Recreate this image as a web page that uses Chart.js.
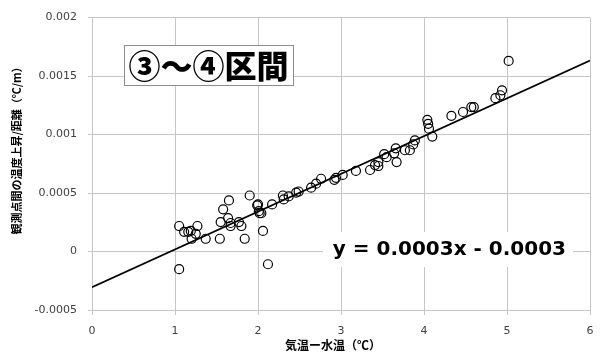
<!DOCTYPE html>
<html>
<head>
<meta charset="utf-8">
<script src="https://cdn.jsdelivr.net/npm/chart.js@4/dist/chart.umd.min.js"></script>
<style>
  html, body { margin: 0; padding: 0; background: #fff; }
  #wrap { width: 606px; height: 355px; }
</style>
</head>
<body>
<div id="wrap"><canvas id="c" width="606" height="355"></canvas></div>
<script>
// Air minus water temperature (°C) for each observation pair
const airWaterDiff = [
  1.05, 1.05, 1.11, 1.16, 1.19, 1.20, 1.25, 1.27, 1.37, 1.54,
  1.55, 1.58, 1.64, 1.65, 1.67, 1.67, 1.77, 1.80, 1.84, 1.90,
  1.99, 2.00, 2.01, 2.02, 2.04, 2.06, 2.12, 2.17, 2.30, 2.31,
  2.37, 2.46, 2.49, 2.64, 2.70, 2.76, 2.92, 2.94, 3.02, 3.18,
  3.35, 3.41, 3.45, 3.45, 3.52, 3.55, 3.64, 3.66, 3.67, 3.77,
  3.83, 3.87, 3.89, 4.04, 4.05, 4.06, 4.10, 4.33, 4.47, 4.57,
  4.60, 4.86, 4.92, 4.94, 5.02
];
// Temperature rise between stations divided by distance (°C/m)
const riseRate = [
  0.000218, -0.000151, 0.000168, 0.000168, 0.000176, 0.000109, 0.000151, 0.000218, 0.000109, 0.000109,
  0.000252, 0.000361, 0.000286, 0.000437, 0.000244, 0.000218, 0.000252, 0.000218, 0.000109, 0.000479,
  0.000395, 0.000403, 0.000345, 0.000328, 0.000328, 0.000176, -0.000109, 0.000403, 0.000479, 0.000445,
  0.000471, 0.000504, 0.000513, 0.000546, 0.000580, 0.000622, 0.000613, 0.000630, 0.000655, 0.000689,
  0.000697, 0.000739, 0.000765, 0.000731, 0.000832, 0.000807, 0.000840, 0.000882, 0.000765, 0.000866,
  0.000866, 0.000916, 0.000950, 0.001126, 0.001092, 0.001050, 0.000983, 0.001160, 0.001193, 0.001235,
  0.001235, 0.001311, 0.001336, 0.001378, 0.001630
];
// Linear fit (shown rounded in the equation label)
const fitSlope = 0.000323;
const fitIntercept = -0.000305;
const fitRange = [0, 6];

const xTicks = [0, 1, 2, 3, 4, 5, 6];
const yTicks = [-0.0005, 0, 0.0005, 0.001, 0.0015, 0.002];

const sectionLabel = '③～④区間';
const equationLabel = 'y = 0.0003x - 0.0003';
const xTitle = '気温ー水温（℃）';
const yTitle = '観測点間の温度上昇/距離（℃/m）';

const points = airWaterDiff.map((x, i) => ({ x, y: riseRate[i] }));
const fitLine = fitRange.map(x => ({ x, y: fitSlope * x + fitIntercept }));

const JP = '"Noto Sans CJK JP", sans-serif';
const gridColor = '#c6c6c6';

const annotations = {
  id: 'annotations',
  afterDraw(chart) {
    const ctx = chart.ctx;
    ctx.save();

    // section label box
    ctx.fillStyle = '#ffffff';
    ctx.fillRect(124, 45, 169, 40);
    ctx.strokeStyle = '#8c8c8c';
    ctx.lineWidth = 1;
    ctx.strokeRect(124.5, 45.5, 169, 40);
    ctx.fillStyle = '#000';
    ctx.font = '900 32px ' + JP;
    ctx.textAlign = 'center';
    ctx.textBaseline = 'middle';
    ctx.fillText(sectionLabel, 208.5, 66);

    // regression equation
    ctx.fillStyle = '#ffffff';
    ctx.fillRect(323, 232, 250, 35);
    ctx.fillStyle = '#000';
    ctx.font = 'bold 20px "DejaVu Sans", Verdana, sans-serif';
    ctx.textAlign = 'right';
    ctx.fillText(equationLabel, 566, 250);

    // axis titles
    ctx.font = 'bold 12px ' + JP;
    ctx.textAlign = 'center';
    ctx.fillText(xTitle, 333, 345);
    ctx.font = 'bold 11px ' + JP;
    ctx.translate(17, 148);
    ctx.rotate(-Math.PI / 2);
    ctx.fillText(yTitle, 0, 0);
    ctx.restore();
  }
};

new Chart(document.getElementById('c'), {
  type: 'scatter',
  data: {
    datasets: [
      {
        type: 'line',
        data: fitLine,
        borderColor: '#000',
        borderWidth: 1.6,
        pointRadius: 0,
        fill: false,
        order: 0
      },
      {
        data: points,
        pointRadius: 4.5,
        pointBorderWidth: 1.2,
        pointBorderColor: '#000',
        pointBackgroundColor: 'rgba(255,255,255,0)',
        order: 1
      }
    ]
  },
  options: {
    responsive: false,
    animation: false,
    layout: { padding: { left: 0, right: 16, top: 12, bottom: 0 } },
    plugins: { legend: { display: false }, tooltip: { enabled: false } },
    scales: {
      x: {
        type: 'linear',
        min: xTicks[0],
        max: xTicks[xTicks.length - 1],
        afterBuildTicks(scale) { scale.ticks = xTicks.map(v => ({ value: v })); },
        afterFit(scale) { scale.height = 45; },
        ticks: {
          color: '#404040',
          font: { family: '"DejaVu Sans", Verdana, sans-serif', size: 11 },
          padding: 10,
          callback: v => String(v)
        },
        grid: { color: gridColor, tickLength: 5 },
        border: { color: gridColor }
      },
      y: {
        type: 'linear',
        min: yTicks[0],
        max: yTicks[yTicks.length - 1],
        afterBuildTicks(scale) { scale.ticks = yTicks.map(v => ({ value: v })); },
        afterFit(scale) { scale.width = 92; },
        ticks: {
          color: '#404040',
          font: { family: '"DejaVu Sans", Verdana, sans-serif', size: 11 },
          padding: 11,
          callback: v => String(parseFloat(v.toFixed(4)))
        },
        grid: { color: gridColor, tickLength: 4 },
        border: { color: gridColor }
      }
    }
  },
  plugins: [annotations]
});
</script>
</body>
</html>
